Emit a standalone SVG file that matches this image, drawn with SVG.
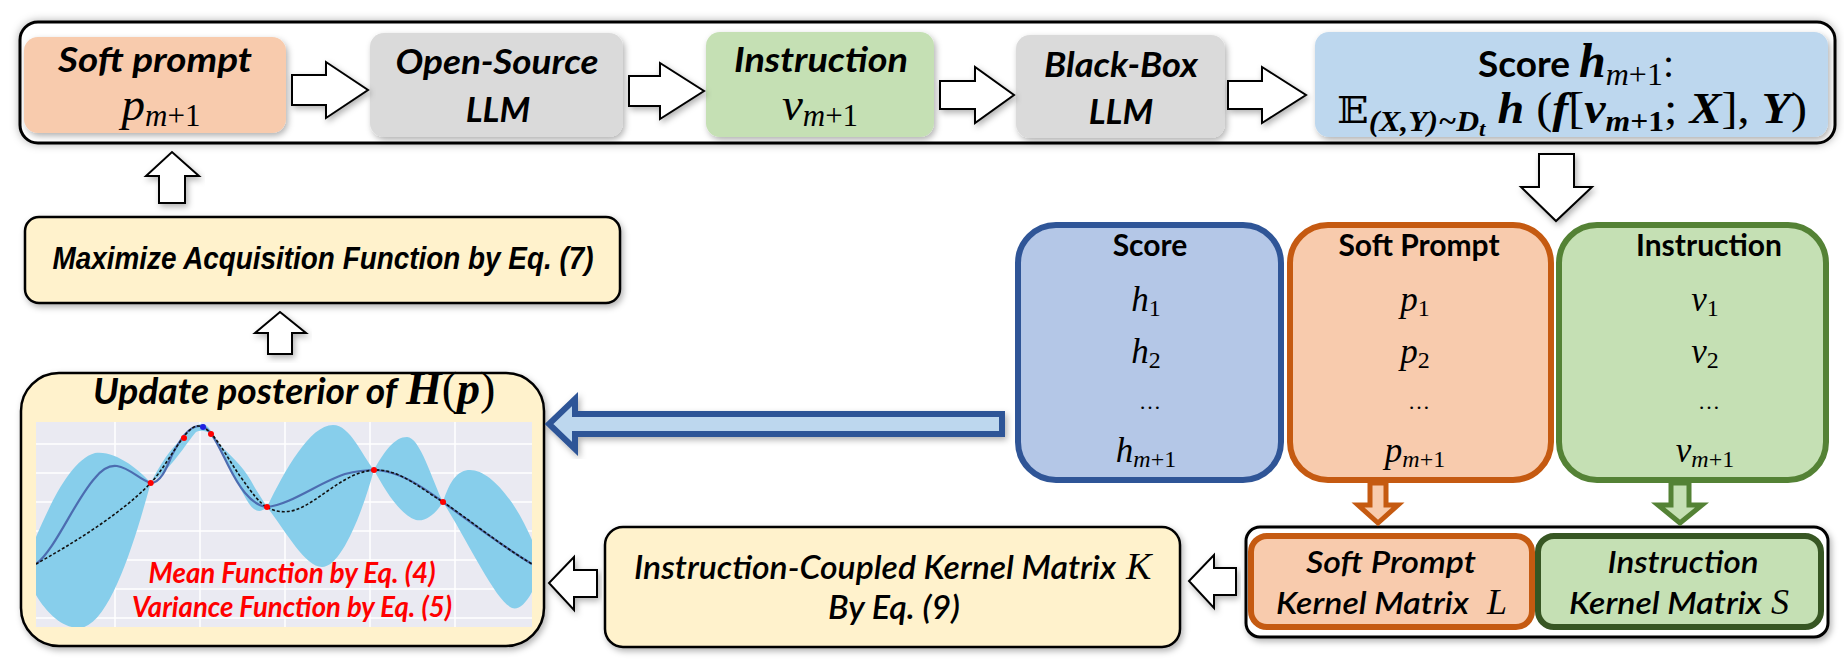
<svg xmlns="http://www.w3.org/2000/svg" width="1844" height="659" viewBox="0 0 1844 659">
<style>
.bi{font-family:Lato,"Open Sans","Liberation Sans",sans-serif;font-weight:700;font-style:italic;fill:#000}
.it{font-family:Lato,"Open Sans","Liberation Sans",sans-serif;font-weight:600;font-style:italic;fill:#000}
.hd{font-family:Lato,"Open Sans","Liberation Sans",sans-serif;font-weight:700;fill:#000}
.ar{font-family:"Liberation Sans",Arial,sans-serif;font-weight:700;font-style:italic;fill:#000}
.m{font-family:"Liberation Serif","DejaVu Serif",serif;font-style:italic;fill:#000}
.mb{font-family:"Liberation Serif","DejaVu Serif",serif;font-style:italic;font-weight:700;fill:#000}
.up{font-style:normal}
.warr{fill:#fff;stroke:#000;stroke-width:2;stroke-linejoin:miter}
.ybox{fill:#FFF2CC;stroke:#000;stroke-width:2.5}
.red{fill:#FF0000}
</style>
<defs>
<filter id="sh" x="-10%" y="-20%" width="120%" height="140%">
<feDropShadow dx="2" dy="3" stdDeviation="3" flood-color="#000" flood-opacity="0.3"/>
</filter>
<filter id="glow" x="-5%" y="-30%" width="110%" height="160%">
<feDropShadow dx="0" dy="0" stdDeviation="4" flood-color="#000" flood-opacity="0.3"/>
</filter>
<clipPath id="plotclip"><rect x="36" y="422" width="496" height="205"/></clipPath>
</defs>

<g id="pipeline">
<rect x="20" y="22" width="1815" height="121" rx="18" fill="#fff" stroke="#000" stroke-width="3" filter="url(#glow)"/>
</g>

<g id="soft-prompt">
<rect x="24" y="37" width="262" height="96" rx="14" fill="#F8CBAD" filter="url(#sh)"/>
<text class="bi" x="155" y="72" font-size="34" text-anchor="middle" textLength="194" lengthAdjust="spacingAndGlyphs">Soft prompt</text>
<text class="m" x="161" y="120" font-size="47" text-anchor="middle">p<tspan font-size="31" dy="6">m</tspan><tspan class="up" font-size="31">+1</tspan></text>
</g>

<g id="open-llm">
<rect x="370" y="33" width="253" height="104" rx="14" fill="#DADADA" filter="url(#sh)"/>
<text class="bi" x="497" y="74" font-size="35" text-anchor="middle" textLength="203" lengthAdjust="spacingAndGlyphs">Open-Source</text>
<text class="bi" x="498" y="122" font-size="35" text-anchor="middle">LLM</text>
</g>

<g id="instruction">
<rect x="706" y="32" width="228" height="105" rx="14" fill="#C5E0B4" filter="url(#sh)"/>
<text class="bi" x="821" y="72" font-size="34" text-anchor="middle" textLength="174" lengthAdjust="spacingAndGlyphs">Instruction</text>
<text class="m" x="820" y="120" font-size="47" text-anchor="middle">v<tspan font-size="31" dy="6">m</tspan><tspan class="up" font-size="31">+1</tspan></text>
</g>

<g id="blackbox-llm">
<rect x="1016" y="35" width="209" height="103" rx="14" fill="#DADADA" filter="url(#sh)"/>
<text class="bi" x="1121" y="77" font-size="35" text-anchor="middle" textLength="154" lengthAdjust="spacingAndGlyphs">Black-Box</text>
<text class="bi" x="1121" y="124" font-size="35" text-anchor="middle">LLM</text>
</g>

<g id="score">
<rect x="1315" y="32" width="513" height="105" rx="14" fill="#BDD7EE" filter="url(#sh)"/>
<text x="1576" y="77" text-anchor="middle"><tspan class="hd" font-size="37">Score </tspan><tspan class="mb" font-size="48">h</tspan><tspan class="m" font-size="32" dy="8">m</tspan><tspan class="m up" font-size="32">+1</tspan><tspan class="m up" font-size="40" dy="-8">:</tspan></text>
<text class="mb" x="1572" y="123" font-size="44" text-anchor="middle" textLength="470" lengthAdjust="spacingAndGlyphs"><tspan font-family="DejaVu Serif,DejaVu Sans,serif" font-style="normal" font-weight="400" font-size="38">𝔼</tspan><tspan font-size="29" dy="8">(X,Y)~D</tspan><tspan font-size="21" dy="5">t</tspan><tspan dy="-13"> h </tspan><tspan class="up" font-weight="400">(</tspan><tspan>f</tspan><tspan class="up" font-weight="400">[</tspan><tspan>v</tspan><tspan font-size="29" dy="8">m</tspan><tspan class="up" font-size="29">+1</tspan><tspan class="up" font-weight="400" dy="-8">; </tspan><tspan>X</tspan><tspan class="up" font-weight="400">], </tspan><tspan>Y</tspan><tspan class="up" font-weight="400">)</tspan></text>
</g>

<g id="maximize">
<rect class="ybox" x="25" y="217" width="595" height="86" rx="14" filter="url(#sh)"/>
<text class="ar" x="323" y="269" font-size="31" text-anchor="middle" textLength="541" lengthAdjust="spacingAndGlyphs">Maximize Acquisition Function by Eq. (7)</text>
</g>

<g id="posterior">
<rect class="ybox" x="21" y="373" width="523" height="273" rx="38" stroke-width="3" filter="url(#sh)"/>
<rect x="36" y="422" width="496" height="205" fill="#EAEAF2"/>
<g stroke="#fff" stroke-width="1.5">
<line x1="115" y1="422" x2="115" y2="627"/><line x1="200" y1="422" x2="200" y2="627"/><line x1="285" y1="422" x2="285" y2="627"/><line x1="370" y1="422" x2="370" y2="627"/><line x1="455" y1="422" x2="455" y2="627"/>
<line x1="36" y1="444" x2="532" y2="444"/><line x1="36" y1="473" x2="532" y2="473"/><line x1="36" y1="502" x2="532" y2="502"/><line x1="36" y1="531" x2="532" y2="531"/><line x1="36" y1="560" x2="532" y2="560"/><line x1="36" y1="589" x2="532" y2="589"/><line x1="36" y1="618" x2="532" y2="618"/>
</g>
<g clip-path="url(#plotclip)">
<path fill="#87CEEB" d="M36,537 C50,505 70,460 95,453 C115,450 140,470 150.7,483 C160,465 170,448 185,436 C192,428 196,424 203,424 C210,425 215,440 225,450 C233,458 245,468 255,488 L267,507 C285,470 310,425 333,425 C350,425 362,455 374,470 C385,450 395,437 407,437 C420,437 432,480 443,502 C450,480 458,470 470,470 C490,470 515,500 532,540 L532,592 C525,605 518,610 512,608 C495,600 470,545 443,502 C435,515 425,522 416,520 C400,515 385,490 374,470 C360,520 340,567 322,567 C305,567 285,530 267,507 C262,512 256,513 250,505 C240,490 230,465 211,434 C205,430 200,430 196,432 C185,445 172,468 150.7,483 C135,540 110,625 80,628 C60,628 45,610 36,595 Z"/>
<path fill="none" stroke="#4C6CB0" stroke-width="2.2" d="M36,564 C55,550 75,500 95,478 C103,468 110,465 117,466 C130,468 140,480 150.7,483 C160,483 166,470 172,455 C180,440 188,426 200,426 C210,426 218,445 228,465 C238,485 250,505 267,507 C290,505 320,482 345,474 C360,470 370,470 377,470 C400,472 420,485 443,502 C470,522 505,548 532,564"/>
<path fill="none" stroke="#111" stroke-width="1.6" stroke-dasharray="3,2" d="M36,564 C70,545 120,515 150.7,483 C170,462 185,426 198,426 C212,426 225,455 240,476 C252,493 260,504 267,507 C275,512 285,513 295,510 C320,502 345,470 377,470 C400,470 420,488 443,502 C470,520 500,545 532,564"/>
<g fill="#FF0000">
<circle cx="150.7" cy="483" r="3"/><circle cx="184" cy="438" r="3"/><circle cx="211" cy="434" r="3"/><circle cx="267" cy="507" r="3"/><circle cx="374" cy="470" r="3"/><circle cx="443" cy="502" r="3"/>
</g>
<circle cx="203" cy="427" r="3" fill="#2020E0"/>
</g>
<text class="bi" x="93" y="404" font-size="37" textLength="304" lengthAdjust="spacingAndGlyphs">Update posterior of</text>
<text x="406" y="404"><tspan class="mb" font-size="46">H</tspan><tspan class="m up" font-size="46">(</tspan><tspan class="mb" font-size="46">p</tspan><tspan class="m up" font-size="46">)</tspan></text>
<text class="bi red" x="292" y="583" font-size="28" text-anchor="middle" textLength="287" lengthAdjust="spacingAndGlyphs">Mean Function by Eq. (4)</text>
<text class="bi red" x="292" y="617" font-size="28" text-anchor="middle" textLength="320" lengthAdjust="spacingAndGlyphs">Variance Function by Eq. (5)</text>
</g>

<g id="score-column">
<rect x="1018" y="225" width="263" height="255" rx="38" fill="#B4C7E7" stroke="#2F5597" stroke-width="6"/>
<text class="hd" x="1150" y="256" font-size="30" text-anchor="middle">Score</text>
<text class="m" x="1146" y="311" font-size="35" text-anchor="middle">h<tspan class="up" font-size="24" dy="5">1</tspan></text>
<text class="m" x="1146" y="363" font-size="35" text-anchor="middle">h<tspan class="up" font-size="24" dy="5">2</tspan></text>
<text class="m up" x="1150" y="409" font-size="22" text-anchor="middle">…</text>
<text class="m" x="1146" y="462" font-size="35" text-anchor="middle">h<tspan font-size="24" dy="5">m</tspan><tspan class="up" font-size="24">+1</tspan></text>
</g>

<g id="softprompt-column">
<rect x="1290" y="225" width="261" height="255" rx="38" fill="#F8CBAD" stroke="#C55A11" stroke-width="6"/>
<text class="hd" x="1419" y="256" font-size="30" text-anchor="middle">Soft Prompt</text>
<text class="m" x="1415" y="311" font-size="35" text-anchor="middle">p<tspan class="up" font-size="24" dy="5">1</tspan></text>
<text class="m" x="1415" y="363" font-size="35" text-anchor="middle">p<tspan class="up" font-size="24" dy="5">2</tspan></text>
<text class="m up" x="1419" y="409" font-size="22" text-anchor="middle">…</text>
<text class="m" x="1415" y="462" font-size="35" text-anchor="middle">p<tspan font-size="24" dy="5">m</tspan><tspan class="up" font-size="24">+1</tspan></text>
</g>

<g id="instruction-column">
<rect x="1559" y="225" width="267" height="255" rx="38" fill="#C5E0B4" stroke="#548235" stroke-width="6"/>
<text class="hd" x="1709" y="256" font-size="30" text-anchor="middle">Instruction</text>
<text class="m" x="1705" y="311" font-size="35" text-anchor="middle">v<tspan class="up" font-size="24" dy="5">1</tspan></text>
<text class="m" x="1705" y="363" font-size="35" text-anchor="middle">v<tspan class="up" font-size="24" dy="5">2</tspan></text>
<text class="m up" x="1709" y="409" font-size="22" text-anchor="middle">…</text>
<text class="m" x="1705" y="462" font-size="35" text-anchor="middle">v<tspan font-size="24" dy="5">m</tspan><tspan class="up" font-size="24">+1</tspan></text>
</g>

<g id="kernels">
<rect x="1246" y="527" width="582" height="110" rx="14" fill="#fff" stroke="#000" stroke-width="3" filter="url(#sh)"/>
</g>
<g id="softprompt-kernel">
<rect x="1251" y="536" width="281" height="91" rx="16" fill="#F8CBAD" stroke="#C55A11" stroke-width="6"/>
<text class="it" x="1391" y="573" font-size="31" text-anchor="middle" textLength="170" lengthAdjust="spacingAndGlyphs">Soft Prompt</text>
<text class="it" x="1276" y="614" font-size="31" textLength="193" lengthAdjust="spacingAndGlyphs">Kernel Matrix</text>
<text class="m" x="1487" y="614" font-size="36">L</text>
</g>
<g id="instruction-kernel">
<rect x="1538" y="536" width="283" height="91" rx="16" fill="#C5E0B4" stroke="#375623" stroke-width="6"/>
<text class="it" x="1683" y="573" font-size="31" text-anchor="middle" textLength="151" lengthAdjust="spacingAndGlyphs">Instruction</text>
<text class="it" x="1569" y="614" font-size="31" textLength="193" lengthAdjust="spacingAndGlyphs">Kernel Matrix</text>
<text class="m" x="1771" y="614" font-size="36">S</text>
</g>

<g id="coupled-kernel">
<rect class="ybox" x="605" y="527" width="575" height="120" rx="18" filter="url(#sh)"/>
<text class="it" x="634" y="579" font-size="33" textLength="482" lengthAdjust="spacingAndGlyphs">Instruction-Coupled Kernel Matrix</text>
<text class="m" x="1126" y="579" font-size="38">K</text>
<text class="it" x="894" y="619" font-size="33" text-anchor="middle" textLength="132" lengthAdjust="spacingAndGlyphs">By Eq. (9)</text>
</g>

<g id="connectors">
<polygon class="warr" filter="url(#sh)" points="292,75 326,75 326,62 368,90 326,118 326,105 292,105"/>
<polygon class="warr" filter="url(#sh)" points="629,76 660,76 660,63 704,91 660,119 660,106 629,106"/>
<polygon class="warr" filter="url(#sh)" points="940,81 975,81 975,67 1014,95 975,123 975,109 940,109"/>
<polygon class="warr" filter="url(#sh)" points="1228,81 1262,81 1262,67 1306,95 1262,123 1262,109 1228,109"/>
<polygon class="warr" filter="url(#sh)" points="159,203 159,176 146,176 172,152 199,176 185,176 185,203"/>
<polygon class="warr" filter="url(#sh)" points="268,354 268,333 255,333 280,312 306,333 292,333 292,354"/>
<polygon class="warr" filter="url(#sh)" points="1539,154 1574,154 1574,187 1592,187 1556,221 1521,187 1539,187"/>
<polygon class="warr" filter="url(#sh)" points="1236,568 1214,568 1214,555 1189,581 1214,608 1214,595 1236,595"/>
<polygon class="warr" filter="url(#sh)" points="597,570 574,570 574,557 549,583 574,610 574,597 597,597"/>
<polygon fill="#BDD7EE" stroke="#2F5597" stroke-width="6" stroke-linejoin="miter" filter="url(#sh)" points="1002,414 575,414 575,399 549,424 575,449 575,434 1002,434"/>
<polygon fill="#F8CBAD" stroke="#C55A11" stroke-width="5" points="1370,483 1386,483 1386,505 1398,505 1378,523 1358,505 1370,505"/>
<polygon fill="#C5E0B4" stroke="#548235" stroke-width="5" points="1671,483 1689,483 1689,505 1702,505 1680,523 1658,505 1671,505"/>
</g>
</svg>
